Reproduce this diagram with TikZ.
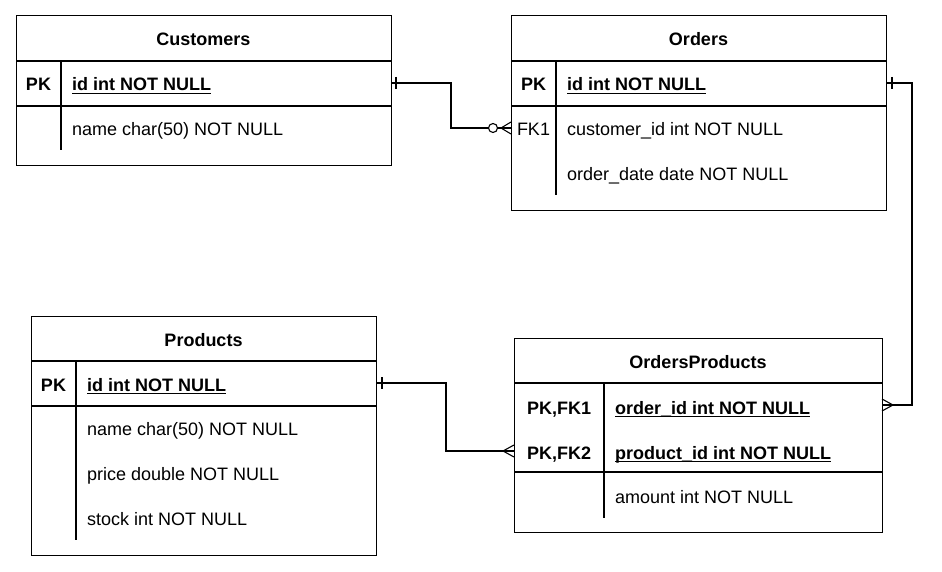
\documentclass[tikz,border=0pt]{standalone}
\usepackage{fontspec}
\setmainfont{Liberation Sans}
\begin{document}
\begin{tikzpicture}[x=1pt,y=-1pt,
  box/.style={draw, line width=1.1pt, inner sep=0pt, anchor=north west},
  sep/.style={line width=1.1pt},
  hdr/.style={font=\fontsize{18}{22}\selectfont\bfseries, anchor=base, inner sep=0pt},
  keyt/.style={font=\fontsize{18}{22}\selectfont\bfseries, anchor=base, inner sep=0pt},
  fld/.style={font=\fontsize{18}{22}\selectfont, anchor=base west, inner sep=0pt},
  pkf/.style={font=\fontsize{18}{22}\selectfont\bfseries, anchor=base west, inner sep=0pt},
  ul/.style={line width=1.3pt},
  conn/.style={line width=1.1pt},
  endm/.style={line width=1.1pt}]
\useasboundingbox[fill=white] (0,0) rectangle (942,572);

% ---------- Customers ----------
\node[box, minimum width=375pt, minimum height=150pt] (cust) at (16,15) {};
\draw[sep] (16,61) -- (391,61) (16,106) -- (391,106) (61,61) -- (61,150);
\node[hdr] (custh) at (203.5,45.5) {Customers};
\node[keyt] (custk1) at (38.5,91) {PK};
\node[pkf] (custf1) at (72,91) {id int NOT NULL};
\node[fld] (custf2) at (72,135.5) {name char(50) NOT NULL};
\draw[ul] ([yshift=-2.2pt]custf1.base west) -- ([yshift=-2.2pt]custf1.base east);

% ---------- Orders ----------
\node[box, minimum width=375pt, minimum height=195pt] (ord) at (511,15) {};
\draw[sep] (511,61) -- (886,61) (511,106) -- (886,106) (556,61) -- (556,195);
\node[hdr] (ordh) at (698.5,45.5) {Orders};
\node[keyt] (ordk1) at (533.5,91) {PK};
\node[pkf] (ordf1) at (567,91) {id int NOT NULL};
\node[keyt, font=\fontsize{18}{22}\selectfont] (ordk2) at (533.5,135.5) {FK1};
\node[fld] (ordf2) at (567,135.5) {customer\_id int NOT NULL};
\node[fld] (ordf3) at (567,180.5) {order\_date date NOT NULL};
\draw[ul] ([yshift=-2.2pt]ordf1.base west) -- ([yshift=-2.2pt]ordf1.base east);

% ---------- Products ----------
\node[box, minimum width=345pt, minimum height=239pt] (prod) at (31,316) {};
\draw[sep] (31,361) -- (376,361) (31,406) -- (376,406) (76,361) -- (76,540);
\node[hdr] (prodh) at (203.5,346.5) {Products};
\node[keyt] (prodk1) at (53.5,391) {PK};
\node[pkf] (prodf1) at (87,391) {id int NOT NULL};
\node[fld] (prodf2) at (87,435.5) {name char(50) NOT NULL};
\node[fld] (prodf3) at (87,480.5) {price double NOT NULL};
\node[fld] (prodf4) at (87,525.5) {stock int NOT NULL};
\draw[ul] ([yshift=-2.2pt]prodf1.base west) -- ([yshift=-2.2pt]prodf1.base east);

% ---------- OrdersProducts ----------
\node[box, minimum width=368pt, minimum height=194pt] (op) at (514,338) {};
\draw[sep] (514,383) -- (882,383) (514,472) -- (882,472) (604,383) -- (604,518);
\node[hdr] (oph) at (698,368.5) {OrdersProducts};
\node[keyt] (opk1) at (559,414.5) {PK,FK1};
\node[pkf] (opf1) at (615,414.5) {order\_id int NOT NULL};
\node[keyt] (opk2) at (559,459.5) {PK,FK2};
\node[pkf] (opf2) at (615,459.5) {product\_id int NOT NULL};
\node[fld] (opf3) at (615,503.5) {amount int NOT NULL};
\draw[ul] ([yshift=-2.2pt]opf1.base west) -- ([yshift=-2.2pt]opf1.base east);
\draw[ul] ([yshift=-2.2pt]opf2.base west) -- ([yshift=-2.2pt]opf2.base east);

% ---------- connector anchors ----------
\coordinate (a1) at (391,83);
\coordinate (b1) at (511,128);
\coordinate (a2) at (886,83);
\coordinate (b2) at (882,405);
\coordinate (a3) at (376,383);
\coordinate (b3) at (514,451);

% Customers -> Orders (one to zero-or-many)
\draw[conn] (a1) -- ++(60,0) |- (b1);
\draw[endm] (396,77) -- (396,89);
\draw[endm, fill=white] (493,128) circle (4.5);
\draw[endm] (b1) ++(0,-6) -- (501,128) -- (511,134);

% Orders -> OrdersProducts (one to many)
\draw[conn] (a2) -- ++(26,0) |- (b2);
\draw[endm] (892,77) -- (892,89);
\draw[endm] (882,399) -- (893,405) -- (882,411);

% Products -> OrdersProducts (one to many)
\draw[conn] (a3) -- ++(70,0) |- (b3);
\draw[endm] (382,377) -- (382,389);
\draw[endm] (514,445) -- (503,451) -- (514,457);
\end{tikzpicture}
\end{document}
